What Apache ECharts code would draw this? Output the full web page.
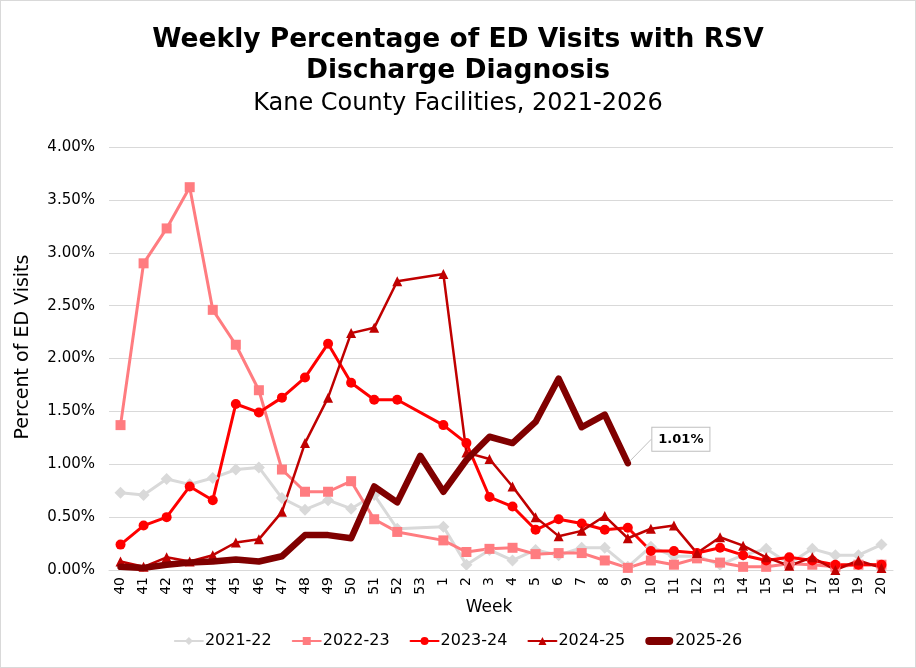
<!doctype html>
<html>
<head>
<meta charset="UTF-8">
<title>RSV ED Visits</title>
<script src="https://cdn.jsdelivr.net/npm/echarts@6/dist/echarts.min.js"></script>
<style>
  html, body { margin: 0; padding: 0; background: #fff; }
  #main { width: 914px; height: 666px; border: 1px solid #d9d9d9; }
</style>
</head>
<body>
<div id="main"></div>
<script type="text/javascript">
  // 周次 (MMWR week), 40..53 then 1..20
  var weeks = ['40','41','42','43','44','45','46','47','48','49','50','51','52','53',
               '1','2','3','4','5','6','7','8','9','10','11','12','13','14','15','16','17','18','19','20'];
  var yTicks = [0, 0.5, 1, 1.5, 2, 2.5, 3, 3.5, 4];

  // season values (percent); null = no data that week
  var s2122 = [0.73,0.71,0.86,0.81,0.87,0.95,0.97,0.68,0.57,0.66,0.58,0.71,0.39,null,
               0.41,0.05,0.19,0.09,0.19,0.14,0.21,0.21,0.03,0.22,0.13,0.13,0.05,0.14,0.20,0.06,0.20,0.14,0.14,0.24];
  var s2223 = [1.37,2.90,3.23,3.62,2.46,2.13,1.70,0.95,0.74,0.74,0.84,0.48,0.36,null,
               0.28,0.17,0.20,0.21,0.15,0.16,0.16,0.09,0.02,0.09,0.05,0.11,0.07,0.03,0.03,0.06,0.05,0.03,0.05,0.05];
  var s2324 = [0.24,0.42,0.50,0.79,0.66,1.57,1.49,1.63,1.82,2.14,1.77,1.61,1.61,null,
               1.37,1.20,0.69,0.60,0.38,0.48,0.44,0.38,0.40,0.18,0.18,0.16,0.21,0.14,0.09,0.12,0.09,0.05,0.05,0.05];
  var s2425 = [0.08,0.03,0.12,0.08,0.14,0.26,0.29,0.55,1.20,1.63,2.24,2.29,2.73,null,
               2.80,1.11,1.05,0.79,0.50,0.32,0.37,0.51,0.30,0.39,0.42,0.16,0.31,0.23,0.12,0.04,0.12,0.00,0.09,0.02];
  var s2526 = [0.03,0.02,0.05,0.07,0.08,0.10,0.08,0.13,0.33,0.33,0.30,0.79,0.64,1.08,
               0.74,1.04,1.26,1.20,1.40,1.81,1.35,1.47,1.01];

  var fontName = 'DejaVu Sans, Verdana, sans-serif';
  var myChart = echarts.init(document.getElementById('main'));

  function lineSeries(name, data, color, symbol, size, width) {
    return {
      name: name,
      type: 'line',
      data: data,
      connectNulls: true,
      symbol: symbol,
      symbolSize: size,
      lineStyle: { color: color, width: width, cap: 'round', join: 'round' },
      itemStyle: { color: color },
      emphasis: { disabled: true }
    };
  }

  // 最后一个点加数据标签
  var last = s2526.length - 1;
  var s2526Data = s2526.map(function (v, i) {
    if (i !== last) return v;
    return {
      value: v,
      symbol: 'circle',
      symbolSize: 5,
      label: {
        show: true,
        formatter: function (p) { return p.value.toFixed(2) + '%'; },
        fontFamily: fontName,
        fontWeight: 'bold',
        fontSize: 13,
        color: '#000',
        backgroundColor: '#fff',
        borderColor: '#bfbfbf',
        borderWidth: 1,
        padding: [5, 6, 5, 6],
        position: 'right'
      },
      labelLine: { show: true, lineStyle: { color: '#bfbfbf', width: 1 } }
    };
  });

  var s5 = lineSeries('2025-26', s2526Data, '#800000', 'none', 0, 6.5);
  s5.labelLayout = { dx: 17, dy: -24 };
  s5.z = 5;

  // 粗线图例图标（上下两个极小点用来撑开包围盒）
  var thickIcon = 'path://M0,0h0.01v0.01z M0,10h0.01v0.01z M4,1 h20 a4,4 0 0 1 0,8 h-20 a4,4 0 0 1 0,-8z';

  var option = {
    animation: false,
    title: [
      {
        text: 'Weekly Percentage of ED Visits with RSV\nDischarge Diagnosis',
        left: 'center',
        top: 19,
        textStyle: { fontFamily: fontName, fontWeight: 'bold', fontSize: 26.5, lineHeight: 31, color: '#000' }
      },
      {
        text: 'Kane County Facilities, 2021-2026',
        left: 'center',
        top: 86,
        textStyle: { fontFamily: fontName, fontWeight: 'normal', fontSize: 24, color: '#000' }
      }
    ],
    legend: {
      bottom: 13,
      left: 'center',
      itemWidth: 28,
      itemHeight: 10,
      itemGap: 20,
      textStyle: { fontFamily: fontName, fontSize: 16, color: '#000', padding: [0, 0, 0, -3] },
      data: ['2021-22', '2022-23', '2023-24', '2024-25',
             { name: '2025-26', icon: thickIcon, itemStyle: { color: '#800000' } }]
    },
    grid: { left: 108, right: 22, top: 146, bottom: 97, containLabel: false },
    graphic: [
      {
        type: 'text',
        x: 22, y: 346,
        rotation: Math.PI / 2,
        style: { text: 'Percent of ED Visits', fontFamily: fontName, fontSize: 19, fill: '#000', align: 'center', verticalAlign: 'middle' }
      },
      {
        type: 'text',
        x: 488, y: 607,
        style: { text: 'Week', fontFamily: fontName, fontSize: 17, fill: '#000', align: 'center', verticalAlign: 'middle' }
      }
    ],
    xAxis: {
      type: 'category',
      data: weeks,
      boundaryGap: true,
      axisLine: { show: true, lineStyle: { color: '#d9d9d9' } },
      axisTick: { show: false },
      axisLabel: { rotate: 90, interval: 0, fontFamily: fontName, fontSize: 14, color: '#000', margin: 7 }
    },
    yAxis: {
      type: 'value',
      min: 0,
      max: 4,
      interval: 0.5,
      axisLine: { show: false },
      axisTick: { show: false },
      splitLine: { lineStyle: { color: '#d9d9d9', width: 1 } },
      axisLabel: {
        fontFamily: fontName, fontSize: 15, color: '#000', margin: 14,
        formatter: function (v) { return yTicks.indexOf(v) >= 0 ? v.toFixed(2) + '%' : ''; }
      }
    },
    series: [
      lineSeries('2021-22', s2122, '#d9d9d9', 'diamond', 12, 3),
      lineSeries('2022-23', s2223, '#ff7c80', 'rect', 10, 3),
      lineSeries('2023-24', s2324, '#ff0000', 'circle', 10, 3),
      lineSeries('2024-25', s2425, '#c00000', 'triangle', 10, 2.5),
      s5
    ]
  };
  myChart.setOption(option);
</script>
</body>
</html>
